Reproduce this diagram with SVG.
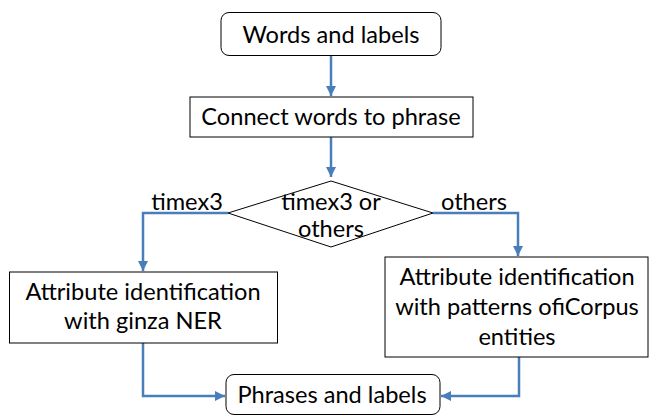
<svg xmlns="http://www.w3.org/2000/svg" width="649" height="415" viewBox="0 0 649 415">
  <style>
    .box { fill: #ffffff; stroke: #000000; stroke-width: 1; }
    .lbl { font-family: Lato, "Open Sans", "Liberation Sans", sans-serif; font-size: 23.6px; fill: #000000; text-anchor: middle; }
    .conn { fill: none; stroke: #4a7ebb; stroke-width: 2.5; }
  </style>
  <defs>
    <marker id="arrow" viewBox="0 0 10 10" refX="10" refY="5" markerWidth="4" markerHeight="4" markerUnits="strokeWidth" orient="auto">
      <path d="M0,0 L10,5 L0,10 z" fill="#4a7ebb"/>
    </marker>
  </defs>
  <rect width="649" height="415" fill="#ffffff"/>

  <g id="connectors">
    <path class="conn" d="M331,56 V96" marker-end="url(#arrow)"/>
    <path class="conn" d="M331,137 V177" marker-end="url(#arrow)"/>
    <path class="conn" d="M228,213 H143 V271" marker-end="url(#arrow)"/>
    <path class="conn" d="M433,213 H518 V256" marker-end="url(#arrow)"/>
    <path class="conn" d="M143,343 V396 H225" marker-end="url(#arrow)"/>
    <path class="conn" d="M519,357 V396 H441" marker-end="url(#arrow)"/>
    <text class="lbl" x="187" y="210">timex3</text>
    <text class="lbl" x="474" y="210">others</text>
  </g>

  <g id="words-and-labels">
    <rect class="box" x="221" y="12.5" width="220" height="43" rx="8"/>
    <text class="lbl" x="331" y="43">Words and labels</text>
  </g>

  <g id="connect-words">
    <rect class="box" x="190" y="97" width="283" height="40"/>
    <text class="lbl" x="331" y="125">Connect words to phrase</text>
  </g>

  <g id="decision">
    <polygon class="box" points="331,181 433,213 331,247 228,213"/>
    <text class="lbl" x="331" y="210">timex3 or</text>
    <text class="lbl" x="331" y="237">others</text>
  </g>

  <g id="ginza-ner">
    <rect class="box" x="9.5" y="272" width="268" height="71"/>
    <text class="lbl" x="143" y="300">Attribute identification</text>
    <text class="lbl" x="143" y="329">with ginza NER</text>
  </g>

  <g id="icorpus-patterns">
    <rect class="box" x="385" y="257" width="263" height="100"/>
    <text class="lbl" x="517" y="285">Attribute identification</text>
    <text class="lbl" x="517" y="315">with patterns ofiCorpus</text>
    <text class="lbl" x="517" y="345">entities</text>
  </g>

  <g id="phrases-and-labels">
    <rect class="box" x="226" y="374.5" width="214" height="40" rx="8"/>
    <text class="lbl" x="332" y="403">Phrases and labels</text>
  </g>
</svg>
